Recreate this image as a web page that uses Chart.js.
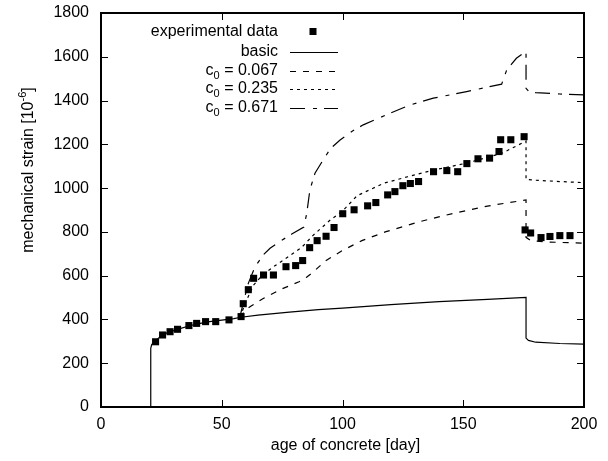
<!DOCTYPE html>
<html>
<head>
<meta charset="utf-8">
<script src="https://cdn.jsdelivr.net/npm/chart.js@4.4.1/dist/chart.umd.min.js"></script>
<style>
  html, body { margin: 0; padding: 0; background: #fff; }
</style>
</head>
<body>
<canvas id="strainChart" width="608" height="461"></canvas>
<script>
// experimental data (squares)
const expDays = [22.6, 25.5, 28.6, 31.7, 36.4, 39.6, 43.3, 47.5, 53.0, 58.0, 58.9, 61.0, 63.2, 67.3, 71.4, 76.6,
  80.6, 83.5, 86.4, 89.5, 93.2, 96.5, 100.1, 104.8, 110.4, 113.8, 118.7, 121.7, 125.0, 128.1, 131.5,
  137.7, 143.2, 147.7, 151.5, 156.1, 160.9, 164.8, 165.5, 169.7, 175.2, 175.6, 177.9, 182.2, 185.9, 190.0, 194.2];
const expStrain = [298, 329, 344, 355, 372, 382, 390, 390, 398, 413, 472, 536, 588, 603, 603, 641,
  646, 669, 728, 760, 780, 820, 883, 901, 919, 934, 969, 984, 1011, 1021, 1030,
  1075, 1080, 1075, 1112, 1134, 1137, 1167, 1221, 1221, 1235, 809, 795, 774, 779, 783, 783];

// model: basic
const basicDays = [20.6, 20.6, 21.0, 21.8, 22.6, 25, 28, 32, 36, 40, 45, 50, 55, 58, 65, 78, 90, 100, 120, 140, 160, 176, 176, 177, 180, 190, 200];
const basicStrain = [0, 268, 285, 295, 303, 326, 342, 356, 369, 380, 390, 397, 404, 410, 420, 433, 445, 452, 468, 481, 492, 501, 315, 304, 296, 290, 287];

// model: c0 = 0.067
const c067Days = [57.5, 60, 62, 67, 75, 82, 85, 88, 93, 100, 108, 118, 132, 146, 160, 176, 176, 178, 185, 200];
const c067Strain = [410, 445, 460, 495, 540, 572, 592, 618, 668, 715, 760, 801, 847, 885, 918, 946, 775, 760, 754, 748];

// model: c0 = 0.235
const c235Days = [57.5, 60, 63, 67, 72, 78, 83, 88, 95, 100, 106, 117, 127, 138, 151, 166, 176, 176, 180, 190, 200];
const c235Strain = [410, 480, 555, 605, 645, 690, 728, 786, 855, 895, 965, 1022, 1052, 1083, 1113, 1159, 1215, 1040, 1036, 1030, 1025];

// model: c0 = 0.671
const c671Days = [57.5, 59, 61, 63.8, 67.2, 70, 74, 79, 84, 85.2, 86.5, 88.6, 92, 95, 99, 104, 108.6, 119.7, 128, 137.6, 151.4, 165.9, 168, 172, 176, 176, 177, 180, 190, 200];
const c671Strain = [410, 480, 565, 641, 695, 725, 756, 790, 822, 885, 992, 1068, 1129, 1180, 1220, 1260, 1289, 1342, 1380, 1411, 1441, 1475, 1540, 1593, 1625, 1456, 1443, 1436, 1430, 1426];

const xTicks = [0, 50, 100, 150, 200];
const yTicks = [0, 200, 400, 600, 800, 1000, 1200, 1400, 1600, 1800];

const legendLabels = [
  { main: 'experimental data' },
  { main: 'basic' },
  { pre: 'c', sub: '0', main: ' = 0.067' },
  { pre: 'c', sub: '0', main: ' = 0.235' },
  { pre: 'c', sub: '0', main: ' = 0.671' }
];

const FONT = "'Liberation Sans', Arial, Helvetica, sans-serif";
Chart.defaults.font.family = FONT;
Chart.defaults.font.size = 16;
Chart.defaults.color = '#000';

function toPoints(xs, ys) {
  return xs.map((v, i) => ({ x: v, y: ys[i] }));
}

function curve(xs, ys, dash) {
  return {
    data: toPoints(xs, ys),
    showLine: true,
    borderColor: '#000',
    borderWidth: 1.2,
    borderDash: dash,
    pointRadius: 0,
    tension: 0,
    fill: false
  };
}

// marco, ticks interiores, leyenda y títulos
const framePlugin = {
  id: 'frame',
  afterDraw(chart) {
    const { ctx, chartArea: a, scales: { x, y } } = chart;
    ctx.save();
    ctx.strokeStyle = '#000';
    ctx.fillStyle = '#000';
    ctx.setLineDash([]);

    ctx.lineWidth = 1;
    ctx.beginPath();
    xTicks.forEach(v => {
      const px = Math.round(x.getPixelForValue(v)) + 0.5;
      ctx.moveTo(px, a.bottom); ctx.lineTo(px, a.bottom - 7);
      ctx.moveTo(px, a.top); ctx.lineTo(px, a.top + 7);
    });
    yTicks.forEach(v => {
      const py = Math.round(y.getPixelForValue(v)) + 0.5;
      ctx.moveTo(a.left, py); ctx.lineTo(a.left + 7, py);
      ctx.moveTo(a.right, py); ctx.lineTo(a.right - 7, py);
    });
    ctx.stroke();

    ctx.lineWidth = 2;
    ctx.strokeRect(a.left, a.top, a.width, a.height);

    // leyenda
    const rowY = [31.5, 51.5, 70.5, 89, 108];
    const textRight = 278;
    ctx.textBaseline = 'middle';
    legendLabels.forEach((lab, i) => {
      const cy = rowY[i];
      ctx.font = '16px ' + FONT;
      const mainW = ctx.measureText(lab.main).width;
      let xPos = textRight - mainW;
      ctx.textAlign = 'left';
      ctx.fillText(lab.main, xPos, cy);
      if (lab.sub) {
        ctx.font = '11px ' + FONT;
        const subW = ctx.measureText(lab.sub).width;
        xPos -= subW;
        ctx.fillText(lab.sub, xPos, cy + 5);
        ctx.font = '16px ' + FONT;
        const preW = ctx.measureText(lab.pre).width;
        xPos -= preW;
        ctx.fillText(lab.pre, xPos, cy);
      }
      const ds = chart.data.datasets[i];
      if (i === 0) {
        ctx.fillRect(313 - 3.5, cy - 3.5, 7, 7);
      } else {
        ctx.lineWidth = ds.borderWidth;
        ctx.setLineDash(ds.borderDash || []);
        ctx.beginPath();
        ctx.moveTo(290, Math.round(cy) + 0.5);
        ctx.lineTo(338, Math.round(cy) + 0.5);
        ctx.stroke();
        ctx.setLineDash([]);
      }
    });

    // título eje x
    ctx.font = '16px ' + FONT;
    ctx.textAlign = 'center';
    ctx.fillText('age of concrete [day]', (a.left + a.right) / 2 + 3, 446);

    // título eje y con superíndice
    ctx.save();
    ctx.translate(29, 170);
    ctx.rotate(-Math.PI / 2);
    ctx.textAlign = 'left';
    const t1 = 'mechanical strain [10', t2 = '-6', t3 = ']';
    ctx.font = '16px ' + FONT;
    const w1 = ctx.measureText(t1).width, w3 = ctx.measureText(t3).width;
    ctx.font = '11px ' + FONT;
    const w2 = ctx.measureText(t2).width;
    let sx = -(w1 + w2 + w3) / 2;
    ctx.font = '16px ' + FONT;
    ctx.fillText(t1, sx, 0);
    sx += w1;
    ctx.font = '11px ' + FONT;
    ctx.fillText(t2, sx, -6);
    sx += w2;
    ctx.font = '16px ' + FONT;
    ctx.fillText(t3, sx, 0);
    ctx.restore();

    ctx.restore();
  }
};

const ctx = document.getElementById('strainChart').getContext('2d');
new Chart(ctx, {
  type: 'scatter',
  data: {
    datasets: [
      {
        data: toPoints(expDays, expStrain),
        pointStyle: 'rect',
        pointRadius: 5,
        pointBackgroundColor: '#000',
        pointBorderWidth: 0,
        showLine: false
      },
      curve(basicDays, basicStrain, []),
      curve(c067Days, c067Strain, [6, 7]),
      curve(c235Days, c235Strain, [3, 4]),
      curve(c671Days, c671Strain, [15, 8, 4, 7])
    ]
  },
  options: {
    responsive: false,
    animation: false,
    layout: { padding: { left: 0, right: 24, top: 13, bottom: 0 } },
    plugins: { legend: { display: false }, tooltip: { enabled: false } },
    scales: {
      x: {
        type: 'linear',
        min: 0, max: 200,
        afterBuildTicks: s => { s.ticks = xTicks.map(v => ({ value: v })); },
        afterFit: s => { s.height = 54; s.paddingLeft = 0; s.paddingRight = 0; },
        grid: { display: false, drawTicks: false },
        border: { display: false },
        ticks: { padding: 8, maxRotation: 0, font: { size: 16 }, callback: v => String(v) }
      },
      y: {
        type: 'linear',
        min: 0, max: 1800,
        afterBuildTicks: s => { s.ticks = yTicks.map(v => ({ value: v })); },
        afterFit: s => { s.width = 101; s.paddingTop = 0; s.paddingBottom = 0; },
        grid: { display: false, drawTicks: false },
        border: { display: false },
        ticks: { padding: 12, font: { size: 16 }, callback: v => String(v) }
      }
    }
  },
  plugins: [framePlugin]
});
</script>
</body>
</html>
